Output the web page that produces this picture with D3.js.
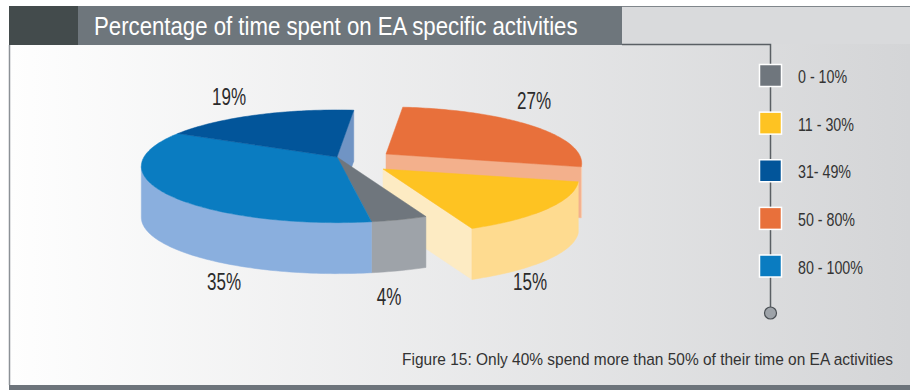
<!DOCTYPE html>
<html>
<head>
<meta charset="utf-8">
<script src="https://cdn.jsdelivr.net/npm/d3@7"></script>
<style>
  html, body { margin: 0; padding: 0; background: #ffffff; }
  svg { display: block; }
  text { font-family: "Liberation Sans", Arial, sans-serif; }
</style>
</head>
<body>
<svg id="chart" width="910" height="390"></svg>
<script>
// ---- data ----
const categories = ["0 - 10%", "11 - 30%", "31- 49%", "50 - 80%", "80 - 100%"];
const shares = [4, 15, 19, 27, 35];
// clockwise order of the slices around the pie
const pieOrder = ["0 - 10%", "80 - 100%", "31- 49%", "50 - 80%", "11 - 30%"];
const titleText = "Percentage of time spent on EA specific activities";
const captionText = "Figure 15: Only 40% spend more than 50% of their time on EA activities";

// ---- styles ----
const palette = {
  "0 - 10%":   { top: "#6f767d", side: "#9ea3a9", cut: "#8a9096" },
  "11 - 30%":  { top: "#fec322", side: "#fedb90", cut: "#fdebc3" },
  "31- 49%":   { top: "#02559a", side: "#5b7fb5", cut: "#7094c4" },
  "50 - 80%":  { top: "#e8703b", side: "#f9d0b7", cut: "#f3b08c" },
  "80 - 100%": { top: "#0a7cc1", side: "#8aafde", cut: "#6fa0d8" }
};
// pulled-out pieces (screen offset) and painting layer (low = painted first)
const explode = {
  "50 - 80%": { dx: 49, dy: -3, layer: 0 },
  "11 - 30%": { dx: 46, dy: 12, layer: 1 }
};
const restPiece = { dx: 0, dy: 0, layer: 2 };
// where each value label sits
const labelAt = {
  "0 - 10%":   [389, 305],
  "11 - 30%":  [530, 290],
  "31- 49%":   [229, 105],
  "50 - 80%":  [534, 109],
  "80 - 100%": [224, 290]
};

const rows = categories.map((c, i) => ({ cat: c, share: shares[i] }));
const svg = d3.select("#chart");
const defs = svg.append("defs");

const g1 = defs.append("linearGradient").attr("id", "panelFill")
  .attr("x1", 0).attr("x2", 1).attr("y1", 0).attr("y2", 0);
g1.append("stop").attr("offset", 0).attr("stop-color", "#fefefe");
g1.append("stop").attr("offset", 1).attr("stop-color", "#d4d5d7");

// text squeezed horizontally to a given width
function fitText(parent, str, x, y, width, size, fill, anchor) {
  const g = parent.append("g");
  const t = g.append("text").attr("font-size", size).attr("fill", fill)
    .attr("text-anchor", anchor || "start").text(str);
  const natural = t.node().getComputedTextLength();
  const k = natural > 0 ? width / natural : 1;
  g.attr("transform", `translate(${x},${y}) scale(${k},1)`);
  return g;
}

// ---- frame ----
svg.append("rect").attr("x", 9).attr("y", 6).attr("width", 901).attr("height", 379)
  .attr("fill", "url(#panelFill)");
svg.append("rect").attr("x", 622).attr("y", 6).attr("width", 288).attr("height", 38)
  .attr("fill", "#d9dadc");
svg.append("line").attr("x1", 622).attr("x2", 910).attr("y1", 6.5).attr("y2", 6.5)
  .attr("stroke", "#80868b").attr("stroke-width", 1);
svg.append("line").attr("x1", 9.5).attr("x2", 9.5).attr("y1", 45).attr("y2", 385)
  .attr("stroke", "#8c9196").attr("stroke-width", 1.5);
svg.append("rect").attr("x", 9).attr("y", 385).attr("width", 901).attr("height", 5)
  .attr("fill", "#6d747b");
svg.append("rect").attr("x", 9).attr("y", 6).attr("width", 69).attr("height", 39)
  .attr("fill", "#434b4c");
svg.append("rect").attr("x", 78).attr("y", 6).attr("width", 544).attr("height", 39)
  .attr("fill", "#6e767c");
fitText(svg, titleText, 94, 35, 484, 25, "#ffffff");

// legend connector
svg.append("path").attr("d", "M622,44.5H770.5V307")
  .attr("fill", "none").attr("stroke", "#5a5f64").attr("stroke-width", 1.5);

// ---- 3D pie ----
const P = 0.165, RX = 193, RY = 54.8, T = 51, CX = 337, CY = 157;

function pt(theta, r, o, low) {
  const u = r * Math.cos(theta), v = r * Math.sin(theta);
  const w = 1 - P * v;
  return [CX + o.dx + RX * u / w, CY + o.dy + RY * v / w + (low ? T : 0)];
}
function arcPts(t0, t1, o, low) {
  const n = Math.max(2, Math.ceil(Math.abs(t1 - t0) / 0.02));
  return d3.range(n + 1).map(i => pt(t0 + (t1 - t0) * i / n, 1, o, low));
}
const poly = pts => d3.line()(pts) + "Z";

const startA = 157 * Math.PI / 180;
const pie = d3.pie()
  .value(d => d.share)
  .sort((a, b) => pieOrder.indexOf(a.cat) - pieOrder.indexOf(b.cat))
  .startAngle(startA).endAngle(startA + 2 * Math.PI);
const arcs = pie(rows).sort((a, b) => a.startAngle - b.startAngle);

const pieces = arcs.map(a => ({
  cat: a.data.cat,
  s: a.startAngle - Math.PI / 2,
  e: a.endAngle - Math.PI / 2,
  o: explode[a.data.cat] || restPiece
}));
const n = pieces.length;
pieces.forEach((p, i) => {
  p.prev = pieces[(i - 1 + n) % n];
  p.next = pieces[(i + 1) % n];
});

const th1 = Math.asin(P), th2 = Math.PI - th1;
const pieG = svg.append("g");

function drawLayer(layer) {
  const list = pieces.filter(p => p.o.layer === layer);
  const g = pieG.append("g");
  // radial cut faces
  list.forEach(p => {
    const col = palette[p.cat];
    if (p.prev.o !== p.o && Math.cos(p.s) < 0) {
      g.append("path").attr("d", poly([pt(p.s, 0, p.o, 0), pt(p.s, 1, p.o, 0), pt(p.s, 1, p.o, 1), pt(p.s, 0, p.o, 1)]))
        .attr("fill", col.cut).attr("stroke", col.cut).attr("stroke-width", 0.5);
    }
    if (p.next.o !== p.o && Math.cos(p.e) > 0) {
      g.append("path").attr("d", poly([pt(p.e, 0, p.o, 0), pt(p.e, 1, p.o, 0), pt(p.e, 1, p.o, 1), pt(p.e, 0, p.o, 1)]))
        .attr("fill", col.cut).attr("stroke", col.cut).attr("stroke-width", 0.5);
    }
  });
  // outer walls, front part only
  list.forEach(p => {
    const col = palette[p.cat];
    for (let k = -1; k <= 1; k++) {
      const lo = Math.max(p.s, th1 + 2 * Math.PI * k);
      const hi = Math.min(p.e, th2 + 2 * Math.PI * k);
      if (hi > lo) {
        g.append("path")
          .attr("d", poly(arcPts(lo, hi, p.o, false).concat(arcPts(hi, lo, p.o, true))))
          .attr("fill", col.side).attr("stroke", col.side).attr("stroke-width", 0.5);
      }
    }
  });
  // top faces
  list.forEach(p => {
    const col = palette[p.cat];
    g.append("path")
      .attr("d", poly([pt(0, 0, p.o, false)].concat(arcPts(p.s, p.e, p.o, false))))
      .attr("fill", col.top).attr("stroke", col.top).attr("stroke-width", 0.5);
  });
}
[0, 1, 2].forEach(drawLayer);

// value labels
rows.forEach(r => {
  const [x, y] = labelAt[r.cat];
  svg.append("g").attr("transform", `translate(${x},${y}) scale(0.74,1)`)
    .append("text").attr("text-anchor", "middle")
    .attr("font-size", 23).attr("fill", "#2b2b2b")
    .text(r.share + "%");
});

// ---- legend ----
const yLeg = d3.scalePoint().domain(categories).range([75.5, 266]);
const leg = svg.append("g");
categories.forEach(c => {
  const yc = yLeg(c);
  leg.append("rect").attr("x", 759.5).attr("y", yc - 11).attr("width", 22).attr("height", 22)
    .attr("fill", palette[c].top).attr("stroke", "#ffffff").attr("stroke-width", 1.5);
  leg.append("g").attr("transform", `translate(798,${yc + 7.5}) scale(0.75,1)`)
    .append("text").attr("font-size", 19).attr("fill", "#333333").text(c);
});
leg.append("circle").attr("cx", 770.5).attr("cy", 313).attr("r", 6)
  .attr("fill", "#9ea3a9").attr("stroke", "#4a4f54").attr("stroke-width", 1.2);

// caption
fitText(svg, captionText, 893, 365, 491, 17, "#333333", "end");
</script>
</body>
</html>
